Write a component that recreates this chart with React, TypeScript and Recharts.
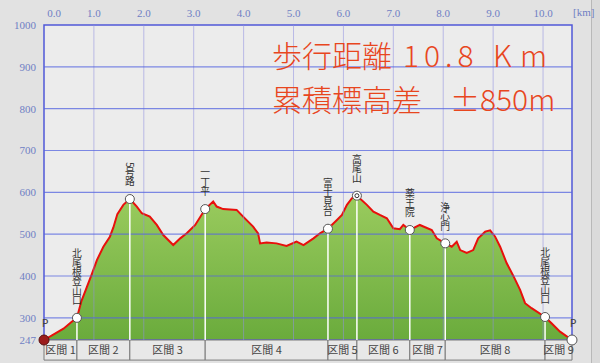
import {
  Area,
  ComposedChart,
  ReferenceArea,
  ReferenceDot,
  ReferenceLine,
  XAxis,
  YAxis,
} from "recharts"

// course profile: distance [km] / elevation [m]
const distKm = [
  0, 0.22, 0.39, 0.55, 0.66, 0.75, 0.86, 0.96, 1.06, 1.19, 1.32, 1.39, 1.47, 1.59, 1.72, 1.86, 1.96,
  2.12, 2.26, 2.39, 2.59, 2.73, 2.86, 3.03, 3.23, 3.39, 3.46, 3.59, 3.86, 3.99, 4.19, 4.29, 4.33,
  4.46, 4.66, 4.86, 5.06, 5.2, 5.4, 5.53, 5.69, 5.87, 5.97, 6.07, 6.17, 6.27, 6.47, 6.6, 6.73, 6.87,
  7.0, 7.13, 7.2, 7.33, 7.53, 7.77, 7.87, 8.04, 8.17, 8.27, 8.34, 8.47, 8.6, 8.7, 8.84, 8.94, 9.04,
  9.14, 9.27, 9.41, 9.54, 9.64, 9.77, 10.04, 10.17, 10.34, 10.58,
]
const elevM = [
  247, 262, 274, 290, 300, 340, 374, 405, 438, 470, 494, 516, 548, 570, 584, 566, 550,
  542, 522, 498, 474, 490, 502, 522, 560, 578, 566, 560, 558, 542, 518, 502, 478,
  480, 478, 472, 482, 474, 490, 502, 513, 534, 546, 570, 586, 592, 570, 554, 546, 538,
  514, 512, 522, 510, 522, 510, 490, 478, 470, 482, 462, 455, 462, 490, 506, 509, 494,
  470, 431, 399, 367, 335, 323, 302, 287, 267, 247,
]

const pointNames = ["北尾根登山口", "5号路", "一丁平", "富士見台", "高尾山", "薬王院", "浄心門", "北尾根登山口"]
const pointKm = [0.66, 1.72, 3.23, 5.69, 6.27, 7.33, 8.04, 10.04]
const pointElev = [300, 584, 560, 513, 592, 510, 478, 302]

const segmentLabels = ["区間 1", "区間 2", "区間 3", "区間 4", "区間 5", "区間 6", "区間 7", "区間 8", "区間 9"]

const kmTicks = [0, 1, 2, 3, 4, 5, 6, 7, 8, 9, 10]
const elevTicks = [247, 300, 400, 500, 600, 700, 800, 900, 1000]
const gridElev = [300, 400, 500, 600, 700, 800, 900]
const gridKm = [1, 2, 3, 4, 5, 6, 7, 8, 9, 10]

const KM_MAX = 10.58
const ELEV_MIN = 247
const ELEV_MAX = 1000
const BAR_BOTTOM = 199 // lower edge of the 区間 strip, in metres below the plot

const data = distKm.map((km, i) => ({ km, elev: elevM[i] }))
const bounds = [0, ...pointKm, KM_MAX]

const axisBlue = "#6f7fc4"
const jp = "'Noto Sans CJK JP', 'Noto Sans', sans-serif"

const TopTick = (props: any) => {
  const { x, y, payload } = props
  const dx = payload.value === 0 ? 10 : 0
  return (
    <text x={x + dx} y={y} textAnchor="middle" fill={axisBlue} fontSize={11} fontFamily="'Liberation Serif', serif">
      {payload.value.toFixed(1)}
    </text>
  )
}

const Marker = (props: any) => {
  const { cx, cy, name, summit } = props
  return (
    <g>
      <text
        x={cx}
        y={cy - 13}
        textAnchor="end"
        fontSize={9.8}
        letterSpacing={-0.4}
        fill="#333"
        fontFamily={jp}
        style={{ writingMode: "vertical-rl" }}
      >
        {name}
      </text>
      <circle cx={cx} cy={cy} r={4.5} fill="#fff" stroke="#555" strokeWidth={1} />
      {summit && <circle cx={cx} cy={cy} r={2} fill="none" stroke="#333" strokeWidth={1} />}
    </g>
  )
}

const Parking = (props: any) => {
  const { cx, cy, start } = props
  return (
    <g>
      <text x={cx + 1} y={cy - 13} textAnchor="middle" fontSize={11} fill="#444" fontFamily="'DejaVu Sans', sans-serif">
        P
      </text>
      {start ? (
        <circle cx={cx} cy={cy} r={5} fill="#9b1c1c" stroke="#5a1010" strokeWidth={1} />
      ) : (
        <circle cx={cx} cy={cy} r={5} fill="#fff" stroke="#555" strokeWidth={1} />
      )}
    </g>
  )
}

export default function App() {
  return (
    <div style={{ position: "relative", width: 600, height: 363, background: "#e2e2e2", overflow: "hidden" }}>
      <style>{"body{margin:0}"}</style>
      <div
        style={{
          position: "absolute",
          left: 591,
          top: 0,
          width: 9,
          height: 363,
          background: "#dadada",
          borderLeft: "1px solid #b8b8b8",
        }}
      />
      <ComposedChart width={600} height={363} data={data} margin={{ top: 0, right: 28, bottom: 23, left: 0 }}>
        <defs>
          <linearGradient id="green" x1="0" y1="0" x2="0" y2="1">
            <stop offset="0%" stopColor="#9acb5e" />
            <stop offset="100%" stopColor="#6aab3c" />
          </linearGradient>
        </defs>
        <XAxis
          xAxisId={0}
          dataKey="km"
          type="number"
          orientation="top"
          domain={[0, KM_MAX]}
          ticks={kmTicks}
          height={25}
          axisLine={false}
          tickLine={false}
          tick={<TopTick />}
          label={{ value: "[km]", position: "right", offset: 1, fill: axisBlue, fontSize: 11, fontFamily: "'Liberation Serif', serif" }}
        />
        <YAxis
          type="number"
          domain={[ELEV_MIN, ELEV_MAX]}
          ticks={elevTicks}
          width={44}
          axisLine={false}
          tickLine={false}
          interval={0}
          tick={{ fill: axisBlue, fontSize: 11, fontFamily: "'Liberation Serif', serif" }}
        />
        <ReferenceArea x1={0} x2={KM_MAX} y1={ELEV_MIN} y2={ELEV_MAX} fill="#ececec" fillOpacity={1} stroke="none" />
        <Area
          dataKey="elev"
          type="linear"
          stroke="#e8100c"
          strokeWidth={2}
          fill="url(#green)"
          fillOpacity={1}
          dot={false}
          activeDot={false}
          isAnimationActive={false}
        />
        {gridKm.map((k) => (
          <ReferenceLine key={"v" + k} x={k} stroke="#8f8fe0" strokeOpacity={0.55} strokeWidth={1} />
        ))}
        {gridElev.map((e) => (
          <ReferenceLine key={"h" + e} y={e} stroke="#5565e0" strokeOpacity={0.75} strokeWidth={1.2} />
        ))}
        {pointKm.map((k, i) => (
          <ReferenceLine
            key={"w" + i}
            segment={[
              { x: k, y: pointElev[i] },
              { x: k, y: ELEV_MIN },
            ]}
            stroke="#ffffff"
            strokeWidth={1.5}
          />
        ))}
        <ReferenceArea x1={0} x2={KM_MAX} y1={ELEV_MIN} y2={ELEV_MAX} fill="none" stroke="#5058d8" strokeWidth={1.5} />
        {segmentLabels.map((s, i) => (
          <ReferenceArea
            key={s}
            x1={bounds[i]}
            x2={bounds[i + 1]}
            y1={BAR_BOTTOM}
            y2={ELEV_MIN}
            ifOverflow="visible"
            fill="#e8e8e8"
            fillOpacity={1}
            stroke="#7a7a7a"
            strokeWidth={1}
            label={{ value: s, position: "center", fill: "#444", fontSize: 11, fontFamily: jp }}
          />
        ))}
        <ReferenceDot x={0} y={ELEV_MIN} r={5} ifOverflow="visible" shape={(p: any) => <Parking {...p} start />} />
        <ReferenceDot x={KM_MAX} y={ELEV_MIN} r={5} ifOverflow="visible" shape={(p: any) => <Parking {...p} />} />
        {pointKm.map((k, i) => (
          <ReferenceDot
            key={"d" + i}
            x={k}
            y={pointElev[i]}
            r={4.5}
            ifOverflow="visible"
            shape={(p: any) => <Marker {...p} name={pointNames[i]} summit={pointNames[i] === "高尾山"} />}
          />
        ))}
      </ComposedChart>
      <div
        style={{
          position: "absolute",
          left: 272,
          top: 32,
          color: "#e8461e",
          fontFamily: jp,
          fontSize: 30,
          fontWeight: 300,
          lineHeight: "44px",
          whiteSpace: "nowrap",
          pointerEvents: "none",
        }}
      >
        <div style={{ position: "relative", height: 44 }}>
          <span>歩行距離</span>
          <span style={{ position: "absolute", left: 131, letterSpacing: 5 }}>10.8</span>
          <span style={{ position: "absolute", left: 221 }}>K</span>
          <span style={{ position: "absolute", left: 248 }}>m</span>
        </div>
        <div style={{ position: "relative", height: 44 }}>
          <span>累積標高差</span>
          <span style={{ position: "absolute", left: 178 }}>±850m</span>
        </div>
      </div>
    </div>
  )
}
